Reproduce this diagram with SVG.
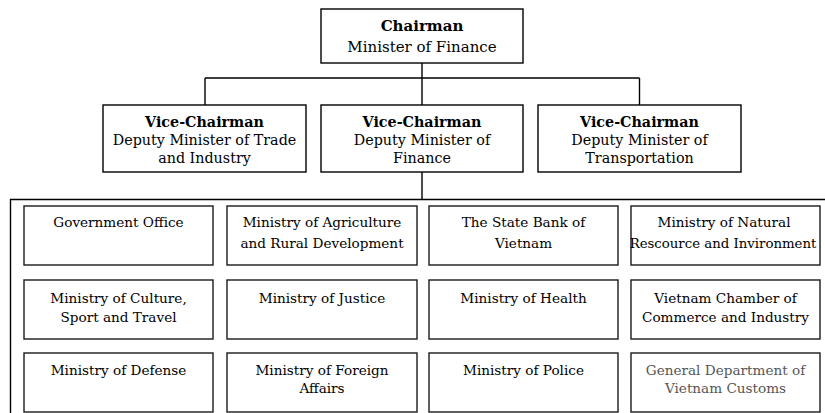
<svg xmlns="http://www.w3.org/2000/svg" width="825" height="413" viewBox="0 0 825 413">
<style>
text{font-family:"DejaVu Serif",serif;fill:#000;text-anchor:middle}
.box{fill:#fff;stroke:#000;stroke-width:1.4}
.gbox{fill:#fff;stroke:#1a1a1a;stroke-width:1.4}
.top{font-size:15px}
.vice{font-size:14.3px}
.g{font-size:13.6px}
.b{font-weight:bold}
.gray{fill:#555}
.line{fill:none;stroke:#000;stroke-width:1.4}
</style>
<rect width="825" height="413" fill="#fff"/>
<g id="connectors">
<path class="line" d="M422 63V78M205 78H639.5M205 78V105M422 78V105M639.5 78V105M422 172V200"/>
<path id="container" class="line" d="M10.5 420V199.5H830"/>
</g>
<g id="chairman">
<rect class="box" x="321" y="9" width="202" height="54"/>
<text class="top b" x="422" y="30.5">Chairman</text>
<text class="top" x="422" y="52">Minister of Finance</text>
</g>
<g id="vice1">
<rect class="box" x="103" y="105" width="203" height="67"/>
<text class="vice b" x="204.5" y="127">Vice-Chairman</text>
<text class="vice" x="204.5" y="145">Deputy Minister of Trade</text>
<text class="vice" x="204.5" y="162.5">and Industry</text>
</g>
<g id="vice2">
<rect class="box" x="321" y="105" width="202" height="67"/>
<text class="vice b" x="422" y="127">Vice-Chairman</text>
<text class="vice" x="422" y="145">Deputy Minister of</text>
<text class="vice" x="422" y="162.5">Finance</text>
</g>
<g id="vice3">
<rect class="box" x="538" y="105" width="203" height="67"/>
<text class="vice b" x="639.5" y="127">Vice-Chairman</text>
<text class="vice" x="639.5" y="145">Deputy Minister of</text>
<text class="vice" x="639.5" y="162.5">Transportation</text>
</g>
<g id="gov-office">
<rect class="gbox" x="24" y="206" width="189" height="59"/>
<text class="g" x="118.5" y="227">Government Office</text>
</g>
<g id="agriculture">
<rect class="gbox" x="227" y="206" width="190" height="59"/>
<text class="g" x="322" y="227">Ministry of Agriculture</text>
<text class="g" x="322" y="248">and Rural Development</text>
</g>
<g id="state-bank">
<rect class="gbox" x="429" y="206" width="189" height="59"/>
<text class="g" x="523.5" y="227">The State Bank of</text>
<text class="g" x="523.5" y="248">Vietnam</text>
</g>
<g id="natural-resource">
<rect class="gbox" x="631" y="206" width="189" height="59"/>
<text class="g" x="724" y="227">Ministry of Natural</text>
<text class="g" x="723" y="248" style="font-size:13.3px">Rescource and Invironment</text>
</g>
<g id="culture">
<rect class="gbox" x="24" y="280" width="189" height="59"/>
<text class="g" x="118.5" y="303">Ministry of Culture,</text>
<text class="g" x="118.5" y="321.5">Sport and Travel</text>
</g>
<g id="justice">
<rect class="gbox" x="227" y="280" width="190" height="59"/>
<text class="g" x="322" y="303">Ministry of Justice</text>
</g>
<g id="health">
<rect class="gbox" x="429" y="280" width="189" height="59"/>
<text class="g" x="523.5" y="303">Ministry of Health</text>
</g>
<g id="chamber">
<rect class="gbox" x="631" y="280" width="189" height="59"/>
<text class="g" x="725.5" y="303">Vietnam Chamber of</text>
<text class="g" x="725.5" y="321.5">Commerce and Industry</text>
</g>
<g id="defense">
<rect class="gbox" x="24" y="353" width="189" height="59"/>
<text class="g" x="118.5" y="375">Ministry of Defense</text>
</g>
<g id="foreign-affairs">
<rect class="gbox" x="227" y="353" width="190" height="59"/>
<text class="g" x="322" y="375">Ministry of Foreign</text>
<text class="g" x="322" y="393">Affairs</text>
</g>
<g id="police">
<rect class="gbox" x="429" y="353" width="189" height="59"/>
<text class="g" x="523.5" y="375">Ministry of Police</text>
</g>
<g id="customs">
<rect class="gbox" x="631" y="353" width="189" height="59"/>
<text class="g gray" x="725.5" y="375">General Department of</text>
<text class="g gray" x="725.5" y="393">Vietnam Customs</text>
</g>
</svg>
